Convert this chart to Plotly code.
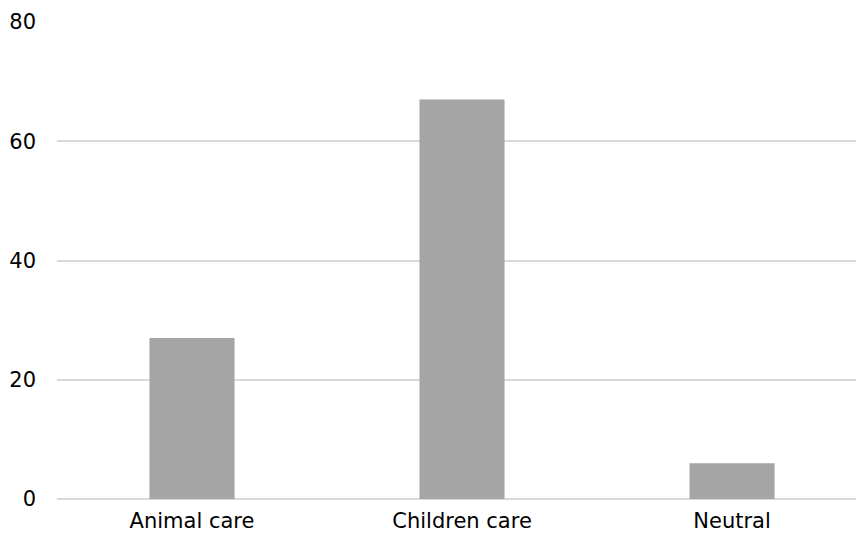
import plotly.graph_objects as go

categories = ["Animal care", "Children care", "Neutral"]
values = [27, 67, 6]
y_ticks = [0, 20, 40, 60, 80]

fig = go.Figure(
    go.Bar(
        x=categories,
        y=values,
        width=0.315,
        marker=dict(color="#a5a5a5", line=dict(width=0)),
        hoverinfo="x+y",
    )
)

fig.update_layout(
    width=856,
    height=536,
    margin=dict(l=57, r=0, t=22, b=37),
    paper_bgcolor="white",
    plot_bgcolor="white",
    font=dict(family="DejaVu Sans", size=21, color="#000000"),
    showlegend=False,
    xaxis=dict(
        range=[-0.5, 2.459],
        showgrid=False,
        showline=False,
        ticks="",
        ticklabelstandoff=7,
    ),
    yaxis=dict(
        range=[0, 80],
        tickvals=y_ticks,
        showgrid=True,
        gridcolor="#d9d9d9",
        gridwidth=1.5,
        zeroline=True,
        zerolinecolor="#d9d9d9",
        zerolinewidth=1.5,
        showline=False,
        ticks="",
        ticklabelstandoff=20,
    ),
)

fig.write_html("out.html")
